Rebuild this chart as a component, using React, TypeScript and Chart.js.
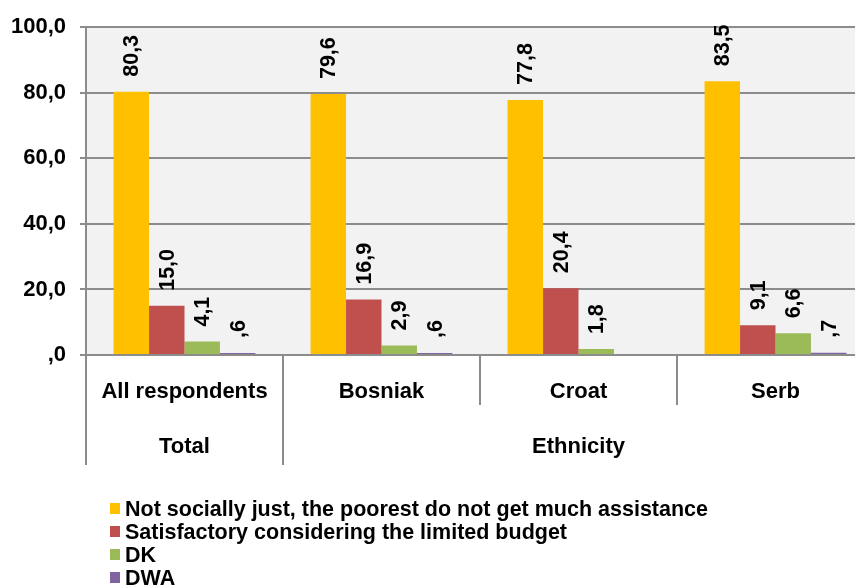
import React, { useEffect, useRef } from 'react';
import { Chart, registerables } from 'chart.js';

Chart.register(...registerables);

const categories = ['All respondents', 'Bosniak', 'Croat', 'Serb'];
const groupLabels = ['Total', 'Ethnicity'];
const groupSpans = [1, 3];
const seriesNames = [
  'Not socially just, the poorest do not get much assistance',
  'Satisfactory considering the limited budget',
  'DK',
  'DWA',
];
const notSociallyJust = [80.3, 79.6, 77.8, 83.5];
const satisfactory = [15.0, 16.9, 20.4, 9.1];
const dk = [4.1, 2.9, 1.8, 6.6];
const dwa: (number | null)[] = [0.6, 0.6, null, 0.7];
const seriesColors = ['#FFC000', '#C0504D', '#9BBB59', '#8064A2'];
const yMin = 0;
const yMax = 100;
const yStep = 20;

const FONT = "'Liberation Sans', Arial, sans-serif";
const GRID = '#8c8c8c';

function fmt(v: number): string {
  let s = v.toFixed(1).replace('.', ',');
  if (s.startsWith('0,')) s = s.slice(1);
  return s;
}

const customPlugin = {
  id: 'custom',
  beforeDraw(chart: any) {
    const { ctx, chartArea: a } = chart;
    ctx.save();
    ctx.fillStyle = '#F2F2F2';
    ctx.fillRect(a.left, a.top, a.right - a.left, a.bottom - a.top);
    ctx.restore();
  },
  afterDraw(chart: any) {
    const { ctx, chartArea: a } = chart;
    ctx.save();
    // data labels
    ctx.fillStyle = '#000';
    ctx.font = `bold 21.5px ${FONT}`;
    chart.data.datasets.forEach((ds: any, di: number) => {
      const meta = chart.getDatasetMeta(di);
      meta.data.forEach((el: any, i: number) => {
        const v = ds.data[i];
        if (v === null || v === undefined) return;
        ctx.save();
        ctx.translate(el.x, el.y - 15);
        ctx.rotate(-Math.PI / 2);
        ctx.textAlign = 'left';
        ctx.textBaseline = 'middle';
        ctx.fillText(fmt(v), 0, 1);
        ctx.restore();
      });
    });

    // category axis separators
    const n = categories.length;
    const w = (a.right - a.left) / n;
    const groupBounds = [0];
    let acc = 0;
    groupSpans.forEach((s) => { acc += s; groupBounds.push(acc); });
    ctx.strokeStyle = GRID;
    ctx.lineWidth = 2;
    for (let i = 0; i <= n; i++) {
      const x = a.left + i * w;
      const yEnd = groupBounds.includes(i) ? 465 : 405;
      ctx.beginPath();
      ctx.moveTo(x, a.bottom);
      ctx.lineTo(x, yEnd);
      ctx.stroke();
    }
    ctx.fillStyle = '#000';
    ctx.font = `bold 22px ${FONT}`;
    ctx.textAlign = 'center';
    ctx.textBaseline = 'middle';
    categories.forEach((c, i) => {
      ctx.fillText(c, a.left + (i + 0.5) * w, 392);
    });
    let start = 0;
    groupLabels.forEach((g, gi) => {
      const span = groupSpans[gi];
      ctx.fillText(g, a.left + (start + span / 2) * w, 447);
      start += span;
    });

    // legend
    ctx.font = `bold 21.5px ${FONT}`;
    ctx.textAlign = 'left';
    ctx.textBaseline = 'middle';
    seriesNames.forEach((name, i) => {
      const cy = 509 + i * 23;
      ctx.fillStyle = seriesColors[i];
      ctx.fillRect(110, cy - 6, 10, 11);
      ctx.fillStyle = '#000';
      ctx.fillText(name, 125, cy + 1);
    });
    ctx.restore();
  },
};

export default function App() {
  const ref = useRef<HTMLCanvasElement>(null);
  useEffect(() => {
    if (!ref.current) return;
    const series = [notSociallyJust, satisfactory, dk, dwa];
    const chart = new Chart(ref.current, {
      type: 'bar',
      data: {
        labels: categories,
        datasets: series.map((d, i) => ({
          label: seriesNames[i],
          data: d,
          backgroundColor: seriesColors[i],
          borderWidth: 0,
          categoryPercentage: 0.72,
          barPercentage: 1,
        })),
      },
      options: {
        responsive: false,
        animation: false,
        layout: { padding: { top: 23, right: 6, left: 0, bottom: 0 } },
        plugins: { legend: { display: false }, tooltip: { enabled: false }, title: { display: false } },
        scales: {
          x: {
            grid: { display: false },
            ticks: { display: false },
            border: { display: true, color: GRID, width: 2 },
            afterFit: (s: any) => { s.height = 231; },
          },
          y: {
            min: yMin,
            max: yMax,
            ticks: {
              stepSize: yStep,
              padding: 14,
              color: '#000',
              font: { family: FONT, size: 22, weight: 'bold' },
              callback: (v: any) => fmt(Number(v)),
            },
            grid: { color: GRID, lineWidth: 2, tickLength: 6, drawTicks: true },
            border: { display: true, color: GRID, width: 2 },
            afterFit: (s: any) => { s.width = 86; },
          },
        },
      },
      plugins: [customPlugin],
    });
    return () => chart.destroy();
  }, []);
  return (
    <div style={{ position: 'absolute', left: 0, top: 0, width: 855, height: 586, overflow: 'hidden', background: '#fff' }}>
      <canvas ref={ref} width={880} height={586} style={{ display: 'block' }} />
    </div>
  );
}
